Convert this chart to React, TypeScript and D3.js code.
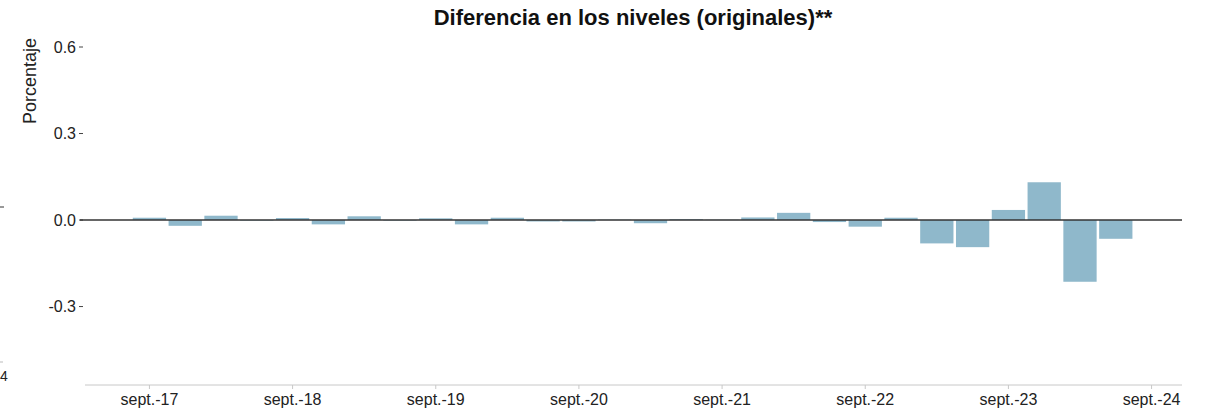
import { useEffect, useRef } from 'react'
import * as d3 from 'd3'

// quarterly periods, sept-17 .. jun-24
const quarters = [
  'sept.-17', 'dic.-17', 'mar.-18', 'jun.-18',
  'sept.-18', 'dic.-18', 'mar.-19', 'jun.-19',
  'sept.-19', 'dic.-19', 'mar.-20', 'jun.-20',
  'sept.-20', 'dic.-20', 'mar.-21', 'jun.-21',
  'sept.-21', 'dic.-21', 'mar.-22', 'jun.-22',
  'sept.-22', 'dic.-22', 'mar.-23', 'jun.-23',
  'sept.-23', 'dic.-23', 'mar.-24', 'jun.-24'
]
const diferencia = [
  0.008, -0.02, 0.015, -0.002,
  0.007, -0.015, 0.013, -0.002,
  0.006, -0.015, 0.008, -0.005,
  -0.005, 0.001, -0.011, 0.003,
  0.001, 0.009, 0.025, -0.007,
  -0.023, 0.008, -0.081, -0.094,
  0.035, 0.131, -0.214, -0.065
]
const xTickLabels = ['sept.-17', 'sept.-18', 'sept.-19', 'sept.-20', 'sept.-21', 'sept.-22', 'sept.-23', 'sept.-24']
const yTicks = [-0.3, 0, 0.3, 0.6]

const W = 1209
const H = 409
const FONT = '"Liberation Sans", Arial, sans-serif'

export default function App() {
  const svgRef = useRef<SVGSVGElement>(null)

  useEffect(() => {
    if (!svgRef.current) return
    const svg = d3.select(svgRef.current)
    svg.selectAll('*').remove()

    const x = d3.scaleLinear().domain([-1.8, 28.85]).range([85, 1182])
    const y = d3.scaleLinear().domain([-0.572, 0.659]).range([385, 30])
    const step = x(1) - x(0)
    const bw = step * 0.93
    const fmt = (d: number) => d3.format('.1f')(d).replace('\u2212', '-')

    // title
    svg.append('text')
      .attr('x', 633)
      .attr('y', 25)
      .attr('text-anchor', 'middle')
      .attr('font-family', FONT)
      .attr('font-size', 22)
      .attr('font-weight', 'bold')
      .attr('fill', '#111')
      .text('Diferencia en los niveles (originales)**')

    // y label
    svg.append('text')
      .attr('transform', 'translate(36,38) rotate(-90)')
      .attr('text-anchor', 'end')
      .attr('font-family', FONT)
      .attr('font-size', 18)
      .attr('fill', '#222')
      .text('Porcentaje')

    // y ticks
    const yg = svg.append('g')
    yg.selectAll('line')
      .data(yTicks)
      .enter()
      .append('line')
      .attr('x1', 79)
      .attr('x2', 83)
      .attr('y1', d => y(d))
      .attr('y2', d => y(d))
      .attr('stroke', '#444')
      .attr('stroke-width', 1)
    yg.selectAll('text')
      .data(yTicks)
      .enter()
      .append('text')
      .attr('x', 76)
      .attr('y', d => y(d))
      .attr('dy', '0.35em')
      .attr('text-anchor', 'end')
      .attr('font-family', FONT)
      .attr('font-size', 16)
      .attr('fill', '#222')
      .text(d => fmt(d))

    // bars
    svg.append('g')
      .selectAll('rect')
      .data(diferencia)
      .enter()
      .append('rect')
      .attr('x', (_, i) => x(i) - bw / 2)
      .attr('width', bw)
      .attr('y', d => y(Math.max(0, d)))
      .attr('height', d => Math.abs(y(d) - y(0)))
      .attr('fill', '#8fb8cb')

    // zero line
    svg.append('line')
      .attr('x1', 80)
      .attr('x2', 1182)
      .attr('y1', y(0))
      .attr('y2', y(0))
      .attr('stroke', '#333')
      .attr('stroke-width', 1.6)

    // x axis
    svg.append('line')
      .attr('x1', 85)
      .attr('x2', 1182)
      .attr('y1', 385)
      .attr('y2', 385)
      .attr('stroke', '#c8c8c8')
      .attr('stroke-width', 1)
    const xg = svg.append('g')
    xg.selectAll('line')
      .data(xTickLabels)
      .enter()
      .append('line')
      .attr('x1', (_, i) => x(i * 4))
      .attr('x2', (_, i) => x(i * 4))
      .attr('y1', 385)
      .attr('y2', 389)
      .attr('stroke', '#c8c8c8')
    xg.selectAll('text')
      .data(xTickLabels)
      .enter()
      .append('text')
      .attr('x', (_, i) => x(i * 4))
      .attr('y', 405)
      .attr('text-anchor', 'middle')
      .attr('font-family', FONT)
      .attr('font-size', 16)
      .attr('fill', '#222')
      .text(d => d)

    // remnants of the neighbouring panel at the left edge
    svg.append('line')
      .attr('x1', 0).attr('x2', 4).attr('y1', 207).attr('y2', 207)
      .attr('stroke', '#333')
    svg.append('line')
      .attr('x1', 0).attr('x2', 3).attr('y1', 362).attr('y2', 362)
      .attr('stroke', '#bbb')
    svg.append('text')
      .attr('x', 0)
      .attr('y', 381)
      .attr('font-family', FONT)
      .attr('font-size', 14)
      .attr('fill', '#222')
      .text('4')
  }, [])

  return (
    <div style={{ position: 'fixed', left: 0, top: 0, background: '#fff' }}>
      <svg ref={svgRef} width={W} height={H} style={{ display: 'block' }} />
    </div>
  )
}
